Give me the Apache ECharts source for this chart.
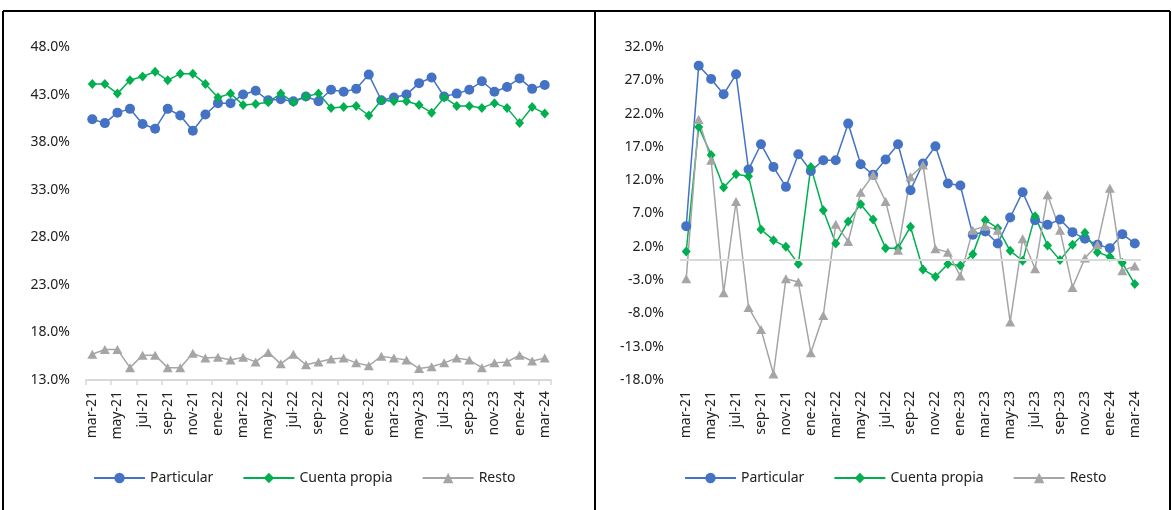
<!DOCTYPE html>
<html>
<head>
<meta charset="utf-8">
<title>Particular / Cuenta propia / Resto</title>
<script src="https://cdn.jsdelivr.net/npm/echarts@6/dist/echarts.min.js"></script>
<style>
    html, body { margin: 0; padding: 0; background: #fff; }
    #main { width: 1172px; height: 510px; }
</style>
</head>
<body>
<div id="main"></div>
<script>
// meses del eje x
var meses = ['mar-21', 'abr-21', 'may-21', 'jun-21', 'jul-21', 'ago-21', 'sep-21', 'oct-21', 'nov-21', 'dic-21',
    'ene-22', 'feb-22', 'mar-22', 'abr-22', 'may-22', 'jun-22', 'jul-22', 'ago-22', 'sep-22', 'oct-22', 'nov-22', 'dic-22',
    'ene-23', 'feb-23', 'mar-23', 'abr-23', 'may-23', 'jun-23', 'jul-23', 'ago-23', 'sep-23', 'oct-23', 'nov-23', 'dic-23',
    'ene-24', 'feb-24', 'mar-24'];

// panel izquierdo (participación, %)
var partIzq = [40.4, 40.0, 41.1, 41.5, 39.9, 39.4, 41.5, 40.8, 39.2, 40.9, 42.1, 42.1, 43.0, 43.4, 42.4, 42.5, 42.3, 42.8, 42.3,
    43.5, 43.3, 43.6, 45.1, 42.4, 42.7, 43.0, 44.2, 44.8, 42.8, 43.1, 43.5, 44.4, 43.3, 43.8, 44.7, 43.6, 44.0];
var cpIzq = [44.1, 44.1, 43.1, 44.5, 44.9, 45.4, 44.5, 45.2, 45.2, 44.1, 42.7, 43.1, 41.9, 42.0, 42.2, 43.1, 42.2, 42.8, 43.1,
    41.6, 41.7, 41.8, 40.8, 42.4, 42.3, 42.3, 41.9, 41.1, 42.7, 41.8, 41.8, 41.6, 42.1, 41.6, 40.0, 41.7, 41.0];
var restoIzq = [15.7, 16.2, 16.2, 14.3, 15.6, 15.6, 14.3, 14.3, 15.8, 15.3, 15.4, 15.1, 15.4, 14.9, 15.9, 14.7, 15.7, 14.6, 14.9,
    15.2, 15.3, 14.8, 14.5, 15.5, 15.3, 15.1, 14.2, 14.4, 14.8, 15.3, 15.1, 14.3, 14.8, 14.9, 15.6, 15.0, 15.3];

// panel derecho (variación, %)
var partDer = [5.1, 29.2, 27.2, 24.9, 27.9, 13.6, 17.4, 14.0, 11.0, 15.9, 13.4, 15.0, 15.0, 20.5, 14.4, 12.8, 15.1, 17.4, 10.5,
    14.5, 17.1, 11.5, 11.2, 3.8, 4.3, 2.5, 6.4, 10.2, 6.0, 5.3, 6.1, 4.2, 3.2, 2.3, 1.8, 3.9, 2.5];
var cpDer = [1.3, 20.0, 15.8, 10.9, 12.9, 12.6, 4.6, 3.0, 2.0, -0.6, 14.0, 7.5, 2.5, 5.8, 8.4, 6.1, 1.8, 1.8, 5.0,
    -1.4, -2.5, -0.6, -0.8, 0.9, 6.0, 4.8, 1.4, -0.1, 6.6, 2.2, 0.0, 2.3, 4.1, 1.2, 0.5, -0.4, -3.6];
var restoDer = [-2.8, 21.1, 15.0, -4.9, 8.8, -7.1, -10.4, -17.1, -2.8, -3.3, -13.9, -8.3, 5.4, 2.8, 10.2, 12.8, 8.8, 1.5, 12.5,
    14.3, 1.7, 1.2, -2.4, 4.5, 5.1, 4.5, -9.3, 3.2, -1.3, 9.8, 4.5, -4.1, 0.3, 2.3, 10.8, -1.6, -0.9];

var nombres = ['Particular', 'Cuenta propia', 'Resto'];
var colores = ['#4472C4', '#00B050', '#A5A5A5'];
var simbolos = ['circle', 'diamond', 'triangle'];
var tamanos = [10, [9, 10], [10, 9]];

var fuente = 'Noto Sans';
var myChart = echarts.init(document.getElementById('main'));

function serie(i, valores, idx) {
    return {
        name: nombres[i],
        type: 'line',
        xAxisIndex: idx,
        yAxisIndex: idx,
        symbol: simbolos[i],
        symbolSize: tamanos[i],
        showAllSymbol: true,
        lineStyle: { color: colores[i], width: 1.5 },
        itemStyle: { color: colores[i] },
        data: valores
    };
}

function ejeX(idx, conLinea) {
    return {
        type: 'category',
        gridIndex: idx,
        data: meses,
        boundaryGap: true,
        axisLine: { show: conLinea, onZero: false, lineStyle: { color: '#d9d9d9', width: 2 } },
        axisTick: { show: conLinea, interval: 1, length: 5, lineStyle: { color: '#d9d9d9', width: 1.5 } },
        axisLabel: { rotate: 90, interval: 1, margin: 11, fontSize: 14, color: '#222', fontFamily: fuente },
        splitLine: { show: false }
    };
}

function ejeY(idx, min, max) {
    return {
        type: 'value',
        gridIndex: idx,
        min: min,
        max: max,
        interval: 5,
        axisLine: { show: false },
        axisTick: { show: false },
        splitLine: { show: false },
        axisLabel: {
            margin: 16, fontSize: 14, color: '#222', fontFamily: fuente,
            formatter: function (v) { return v.toFixed(1) + '%'; }
        }
    };
}

function leyenda(izq) {
    return {
        data: nombres,
        left: izq,
        top: 466,
        itemWidth: 51,
        itemHeight: 13,
        itemGap: 29,
        textStyle: { fontSize: 14, color: '#222', fontFamily: fuente }
    };
}

var derParticular = serie(0, partDer, 1);
// línea del cero
derParticular.markLine = {
    silent: true,
    symbol: 'none',
    label: { show: false },
    lineStyle: { color: '#d9d9d9', width: 2, type: 'solid' },
    data: [{ yAxis: 0 }]
};

var option = {
    animation: false,
    backgroundColor: '#fff',
    grid: [
        { left: 86, top: 47, width: 465, height: 333 },
        { left: 680, top: 47, width: 461, height: 333 }
    ],
    xAxis: [ejeX(0, true), ejeX(1, false)],
    yAxis: [ejeY(0, 13, 48), ejeY(1, -18, 32)],
    legend: [leyenda(88), leyenda(679)],
    // marco de los dos paneles
    graphic: [
        { type: 'line', shape: { x1: 3, y1: 11, x2: 1170, y2: 11 }, style: { stroke: '#000', lineWidth: 2 } },
        { type: 'line', shape: { x1: 3, y1: 11, x2: 3, y2: 512 }, style: { stroke: '#000', lineWidth: 2 } },
        { type: 'line', shape: { x1: 595, y1: 11, x2: 595, y2: 512 }, style: { stroke: '#000', lineWidth: 2 } },
        { type: 'line', shape: { x1: 1170, y1: 11, x2: 1170, y2: 512 }, style: { stroke: '#000', lineWidth: 2 } }
    ],
    series: [
        serie(0, partIzq, 0),
        serie(1, cpIzq, 0),
        serie(2, restoIzq, 0),
        derParticular,
        serie(1, cpDer, 1),
        serie(2, restoDer, 1)
    ]
};

myChart.setOption(option);
</script>
</body>
</html>
